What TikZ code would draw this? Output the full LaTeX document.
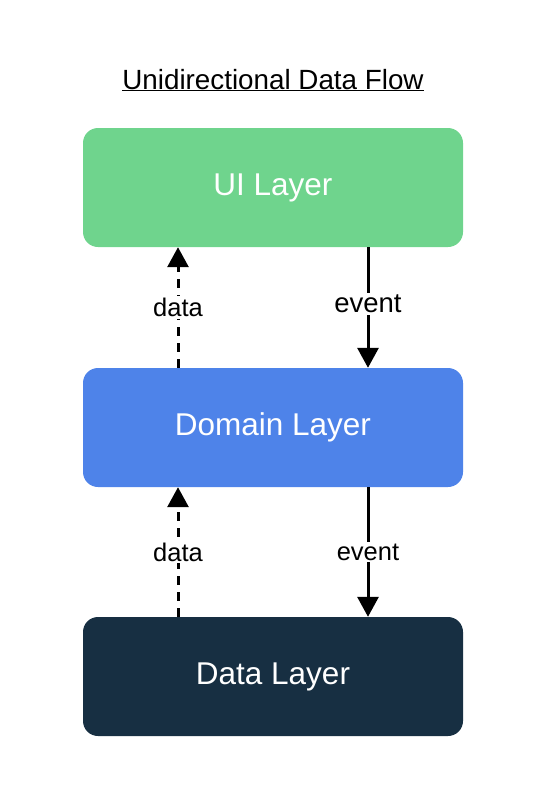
\documentclass[tikz,border=0pt]{standalone}
\usepackage{fontspec}
\setmainfont{Liberation Sans}
\usetikzlibrary{arrows.meta}
\definecolor{uigreen}{HTML}{6FD48D}
\definecolor{domblue}{HTML}{4E83E9}
\definecolor{datadark}{HTML}{172F42}
\tikzset{
  layerbox/.style={rounded corners=15pt, minimum width=380pt, minimum height=119pt, inner sep=0pt, text=white, font=\fontsize{31.5}{36}\selectfont},
  flowarrow/.style={line width=3pt, -{Triangle[width=21pt,length=20pt]}},
  dataflow/.style={flowarrow, dash pattern=on 9pt off 7pt},
  lbl/.style={fill=white, inner sep=2pt, text=black, font=\fontsize{25.5}{30}\selectfont}
}
\begin{document}
\begin{tikzpicture}[x=1pt,y=-1pt]
\useasboundingbox (0,0) rectangle (548,812);
\node[anchor=base, font=\fontsize{27.8}{32}\selectfont] (title) at (273,89) {\underline{Unidirectional Data Flow}};
\node[layerbox, fill=uigreen] (ui) at (273,187.5) {UI Layer};
\node[layerbox, fill=domblue] (dom) at (273,427.5) {Domain Layer};
\node[layerbox, fill=datadark] (dat) at (273,676.5) {Data Layer};
\draw[dataflow] ([xshift=-95pt]dom.north) -- ([xshift=-95pt]ui.south) node[lbl, pos=0.5] (l1) {data};
\draw[flowarrow] ([xshift=95pt]ui.south) -- ([xshift=95pt]dom.north) node[lbl, pos=0.47, font=\fontsize{27.5}{32}\selectfont] (l2) {event};
\draw[dataflow] ([xshift=-95pt]dat.north) -- ([xshift=-95pt]dom.south) node[lbl, pos=0.5] (l3) {data};
\draw[flowarrow] ([xshift=95pt]dom.south) -- ([xshift=95pt]dat.north) node[lbl, pos=0.5] (l4) {event};
\end{tikzpicture}
\end{document}
